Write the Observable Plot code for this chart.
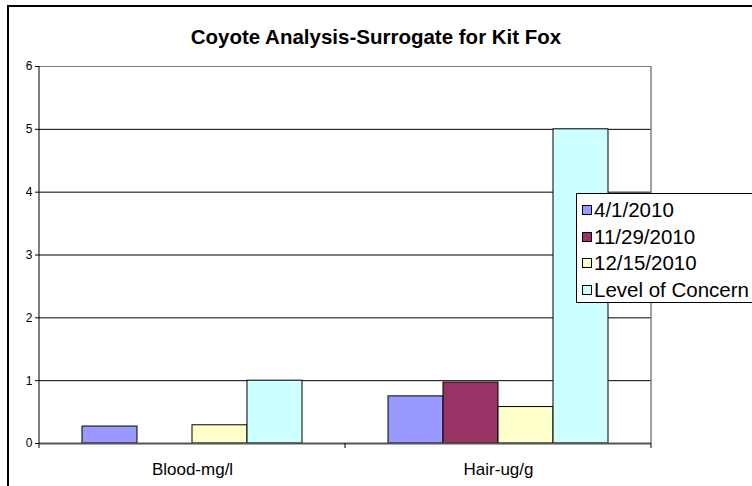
<!DOCTYPE html>
<html>
<head>
<meta charset="utf-8">
<script src="https://cdn.jsdelivr.net/npm/d3@7"></script>
<script src="https://cdn.jsdelivr.net/npm/@observablehq/plot@0.6"></script>
<style>
  html, body { margin: 0; padding: 0; background: #fff; }
  #wrap { position: relative; width: 752px; height: 486px; overflow: hidden; font-family: Arial, "Liberation Sans", sans-serif; }
  #outer { position: absolute; left: 7px; top: 5px; width: 800px; height: 600px; border: 2px solid #000; box-sizing: border-box; }
  #title { position: absolute; left: 0; width: 752px; top: 25px; text-align: center; font-weight: bold; font-size: 20.5px; color: #000; }
  #chart { position: absolute; left: 0; top: 0; }
  #legend { position: absolute; left: 576px; top: 193px; width: 200px; height: 110px; border: 1px solid #000; background: #fff; box-sizing: border-box; padding-top: 3px; }
  .item { display: flex; align-items: center; height: 26.5px; font-size: 20.5px; color: #000; white-space: nowrap; }
  .sw { width: 8px; height: 8px; border: 1px solid #000; margin-left: 5px; margin-right: 2px; }
</style>
</head>
<body>
<div id="wrap">
  <div id="outer"></div>
  <div id="chart"></div>
  <div id="title"></div>
  <div id="legend"></div>
</div>
<script>
const title = "Coyote Analysis-Surrogate for Kit Fox";
const categories = ["Blood-mg/l", "Hair-ug/g"];
const series = ["4/1/2010", "11/29/2010", "12/15/2010", "Level of Concern"];
const colors = ["#9999FF", "#993366", "#FFFFCC", "#CCFFFF"];
const bloodValues = [0.27, null, 0.29, 1.0];
const hairValues = [0.75, 0.97, 0.58, 5.0];
const yTicks = [0, 1, 2, 3, 4, 5, 6];

const valuesByCategory = [bloodValues, hairValues];
const data = [];
categories.forEach((c, ci) => {
  series.forEach((s, si) => {
    const v = valuesByCategory[ci][si];
    if (v != null) data.push({category: c, series: s, value: v});
  });
});

document.getElementById("title").textContent = title;

const plot = Plot.plot({
  width: 752,
  height: 486,
  marginLeft: 38,
  marginRight: 101,
  marginTop: 66,
  marginBottom: 43,
  style: {fontFamily: "Arial, 'Liberation Sans', sans-serif", background: "transparent", overflow: "visible"},
  fx: {domain: categories, padding: 0, label: null},
  x: {domain: series, paddingInner: 0, paddingOuter: 0.74, axis: null},
  y: {domain: [0, 6], label: null},
  color: {domain: series, range: colors},
  marks: [
    Plot.gridY(yTicks.filter(t => t > 0 && t < 6), {stroke: "#000", strokeOpacity: 1}),
    Plot.ruleY([6], {stroke: "#808080", strokeWidth: 1}),
    Plot.barY(data, {fx: "category", x: "series", y: "value", fill: "series", stroke: "#000", strokeWidth: 1}),
    Plot.axisY(yTicks, {tickSize: 4, tickPadding: 3, fontSize: 12, stroke: "#000", tickFormat: d => String(d), label: null}),
    Plot.axisFx({anchor: "bottom", tickSize: 0, tickPadding: 19, fontSize: 17, label: null}),
    Plot.ruleY([0], {stroke: "#555", strokeWidth: 2})
  ]
});
document.getElementById("chart").appendChild(plot);

// plot-area border lines and category boundary ticks, placed through the plot's own scales
const fx = plot.scale("fx");
const y = plot.scale("y");
const svg = d3.select(plot);
const g = svg.append("g");
const bw = fx.bandwidth;
const left = fx.apply(categories[0]);
const right = fx.apply(categories[categories.length - 1]) + bw;
const y0 = y.apply(0), y6 = y.apply(6);
g.append("line").attr("x1", left).attr("x2", left).attr("y1", y6).attr("y2", y0 + 5).attr("stroke", "#000");
g.append("line").attr("x1", right).attr("x2", right).attr("y1", y6).attr("y2", y0).attr("stroke", "#808080").attr("stroke-width", 1.5);
categories.slice(1).forEach(c => {
  const xb = fx.apply(c);
  g.append("line").attr("x1", xb).attr("x2", xb).attr("y1", y0).attr("y2", y0 + 5).attr("stroke", "#000");
});
g.append("line").attr("x1", right).attr("x2", right).attr("y1", y0).attr("y2", y0 + 5).attr("stroke", "#000");

// legend
const legend = document.getElementById("legend");
series.forEach((s, i) => {
  const item = document.createElement("div");
  item.className = "item";
  const sw = document.createElement("span");
  sw.className = "sw";
  sw.style.background = colors[i];
  const t = document.createElement("span");
  t.textContent = s;
  item.appendChild(sw);
  item.appendChild(t);
  legend.appendChild(item);
});
</script>
</body>
</html>
